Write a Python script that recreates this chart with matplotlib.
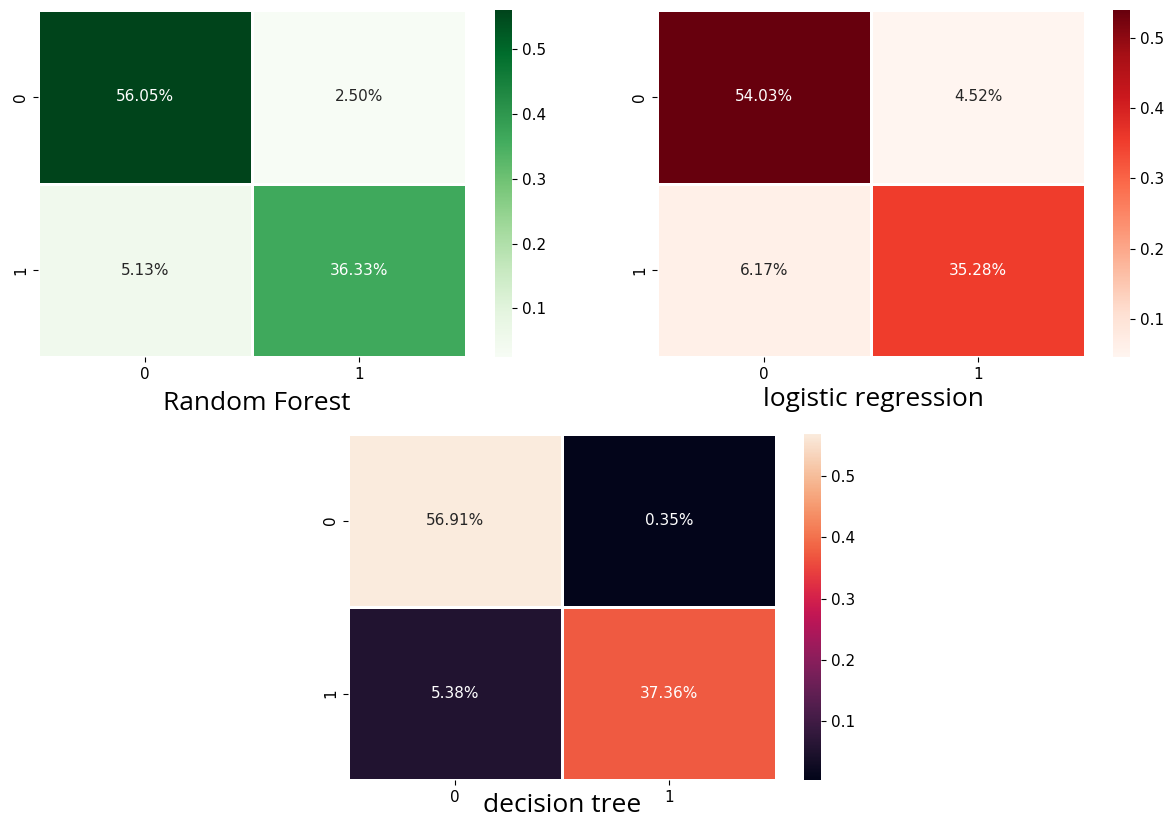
import numpy as np
import matplotlib
matplotlib.use("Agg")
import matplotlib.pyplot as plt
import seaborn as sns

# normalised confusion matrices (fraction of all samples)
rf_cm = np.array([[0.5605, 0.0250],
                  [0.0513, 0.3633]])
lr_cm = np.array([[0.5403, 0.0452],
                  [0.0617, 0.3528]])
dt_cm = np.array([[0.5691, 0.0035],
                  [0.0538, 0.3736]])

titles = ["Random Forest", "logistic regression", "decision tree"]
cmaps = ["Greens", "Reds", "rocket"]

W, H = 1169, 818
fig = plt.figure(figsize=(W / 100, H / 100), dpi=100)


def px_axes(x0, y0, x1, y1):
    return fig.add_axes([x0 / W, 1 - y1 / H, (x1 - x0) / W, (y1 - y0) / H])


# (heatmap box, colorbar box) in pixel coordinates
boxes = [
    ((38, 10, 466, 357), (495, 10, 512, 357)),
    ((657, 10, 1085, 357), (1113, 10, 1130, 357)),
    ((348, 434, 776, 780), (804, 434, 821, 780)),
]
title_pos = [(257, 403), (873, 399), (562, 805)]

for cm, title, cmap, (hb, cb), (tx, ty) in zip(
        [rf_cm, lr_cm, dt_cm], titles, cmaps, boxes, title_pos):
    ax = px_axes(*hb)
    cax = px_axes(*cb)
    sns.heatmap(cm, annot=True, fmt=".2%", cmap=cmap, linewidths=1,
                linecolor="white", ax=ax, cbar_ax=cax,
                annot_kws={"fontsize": 11})
    ax.set_yticklabels(ax.get_yticklabels(), rotation=90, va="center")
    ax.tick_params(labelsize=11)
    cax.tick_params(labelsize=11)
    cax.set_yticks([0.1, 0.2, 0.3, 0.4, 0.5])
    fig.text(tx / W, 1 - ty / H, title, ha="center", va="center",
             fontsize=19, family="Open Sans")

fig.savefig("out.png", dpi=100)
